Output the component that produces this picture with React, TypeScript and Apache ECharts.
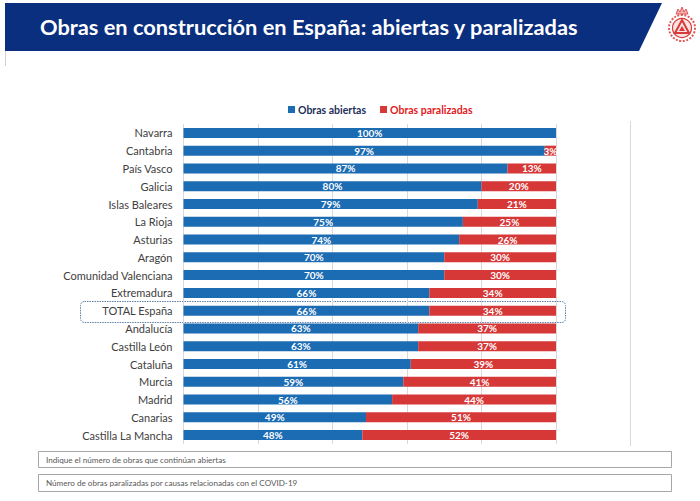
import React, { useEffect, useRef } from "react";
import * as echarts from "echarts";

const regions = [
  "Navarra",
  "Cantabria",
  "País Vasco",
  "Galicia",
  "Islas Baleares",
  "La Rioja",
  "Asturias",
  "Aragón",
  "Comunidad Valenciana",
  "Extremadura",
  "TOTAL España",
  "Andalucía",
  "Castilla León",
  "Cataluña",
  "Murcia",
  "Madrid",
  "Canarias",
  "Castilla La Mancha",
];
const abiertas = [100, 97, 87, 80, 79, 75, 74, 70, 70, 66, 66, 63, 63, 61, 59, 56, 49, 48];
const paralizadas = [0, 3, 13, 20, 21, 25, 26, 30, 30, 34, 34, 37, 37, 39, 41, 44, 51, 52];
const seriesNames = ["Obras abiertas", "Obras paralizadas"];
const title = "Obras en construcción en España: abiertas y paralizadas";
const notes = [
  "Indique el número de obras que continúan abiertas",
  "Número de obras paralizadas por causas relacionadas con el COVID-19",
];

const BLUE = "#1c6cb3";
const RED = "#d63838";
const FONT = "Lato, 'Open Sans', sans-serif";

export default function App() {
  const ref = useRef<HTMLDivElement>(null);
  useEffect(() => {
    if (!ref.current) return;
    const chart = echarts.init(ref.current, null, { renderer: "svg" });
    const labelCfg = {
      show: true,
      position: "inside",
      color: "#ffffff",
      fontWeight: "bold",
      fontSize: 10,
      fontFamily: FONT,
      formatter: (p: any) => (p.value > 0 ? p.value + "%" : ""),
    };
    chart.setOption({
      animation: false,
      backgroundColor: "#ffffff",
      textStyle: { fontFamily: FONT },
      legend: {
        top: 99,
        left: 283,
        itemWidth: 7,
        itemHeight: 7,
        itemGap: 14,
        icon: "rect",
        data: [
          { name: seriesNames[0], textStyle: { color: "#1d2f5a" } },
          { name: seriesNames[1], textStyle: { color: "#e3191c" } },
        ],
        textStyle: { fontWeight: "bold", fontSize: 10.5, fontFamily: FONT, padding: [0, 0, 0, -2] },
      },
      grid: { left: 183.5, right: 144, top: 124, bottom: 57, containLabel: false },
      xAxis: {
        type: "value",
        min: 0,
        max: 100,
        interval: 20,
        axisLabel: { show: false },
        axisLine: { show: false },
        axisTick: { show: false },
        splitLine: { show: true, lineStyle: { color: "#d9d9d9", width: 1 } },
      },
      yAxis: {
        type: "category",
        data: regions,
        inverse: true,
        axisLine: { show: false },
        axisTick: { show: false },
        axisLabel: { color: "#404040", fontSize: 11, fontFamily: FONT, margin: 11 },
      },
      series: [
        {
          name: seriesNames[0],
          type: "bar",
          stack: "t",
          data: abiertas,
          barWidth: 10,
          itemStyle: { color: BLUE },
          label: labelCfg,
        },
        {
          name: seriesNames[1],
          type: "bar",
          stack: "t",
          data: paralizadas,
          barWidth: 10,
          itemStyle: { color: RED },
          label: labelCfg,
        },
      ],
      graphic: [
        {
          type: "polygon",
          shape: { points: [[5, 3], [662, 3], [639, 51], [5, 51]] },
          style: { fill: "#0a2f7e" },
        },
        {
          type: "text",
          x: 40,
          y: 26.5,
          style: {
            text: title,
            fill: "#ffffff",
            font: "bold 21.8px " + FONT,
            textVerticalAlign: "middle",
          },
        },
        {
          type: "line",
          shape: { x1: 5.5, y1: 51, x2: 5.5, y2: 66 },
          style: { stroke: "#d0d0d0", lineWidth: 1 },
        },
        // logo
        {
          type: "circle",
          shape: { cx: 682, cy: 28, r: 13 },
          style: { fill: "none", stroke: "#e05a5a", lineWidth: 2, lineDash: [2, 1.5] },
        },
        {
          type: "circle",
          shape: { cx: 682, cy: 28, r: 9.5 },
          style: { fill: "#fbe3e3", stroke: "#d83a3a", lineWidth: 1.2 },
        },
        {
          type: "polygon",
          shape: { points: [[682, 20], [689, 33], [675, 33]] },
          style: { fill: "none", stroke: "#d83a3a", lineWidth: 2 },
        },
        {
          type: "polygon",
          shape: { points: [[682, 26], [685, 31], [679, 31]] },
          style: { fill: "#d83a3a" },
        },
        {
          type: "polygon",
          shape: { points: [[676, 14], [678, 9], [680, 12], [682, 7], [684, 12], [686, 9], [688, 14]] },
          style: { fill: "#f3b0b0", stroke: "#d83a3a", lineWidth: 0.8 },
        },
        // right chart border
        {
          type: "line",
          shape: { x1: 630.5, y1: 121, x2: 630.5, y2: 446 },
          style: { stroke: "#d9d9d9", lineWidth: 1 },
        },
        // TOTAL highlight box
        {
          type: "rect",
          shape: { x: 80.5, y: 301.5, width: 485, height: 21, r: 4 },
          style: { fill: "none", stroke: "#5d7fa8", lineWidth: 1, lineDash: [1.5, 1] },
        },
        // bottom boxes
        {
          type: "rect",
          shape: { x: 38.5, y: 451.5, width: 633, height: 16 },
          style: { fill: "#ffffff", stroke: "#a6a6a6", lineWidth: 1 },
        },
        {
          type: "text",
          x: 46,
          y: 459.5,
          style: { text: notes[0], fill: "#595959", font: "8.1px " + FONT, textVerticalAlign: "middle" },
        },
        {
          type: "rect",
          shape: { x: 38.5, y: 474.5, width: 633, height: 17 },
          style: { fill: "#ffffff", stroke: "#a6a6a6", lineWidth: 1 },
        },
        {
          type: "text",
          x: 46,
          y: 483,
          style: { text: notes[1], fill: "#595959", font: "8.1px " + FONT, textVerticalAlign: "middle" },
        },
      ],
    });
    return () => chart.dispose();
  }, []);
  return (
    <div
      ref={ref}
      style={{ position: "fixed", left: 0, top: 0, width: 700, height: 501 }}
    />
  );
}
